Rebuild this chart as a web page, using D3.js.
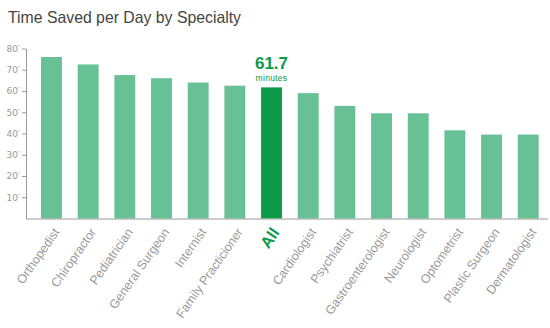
<!DOCTYPE html>
<html>
<head>
<meta charset="utf-8">
<script src="https://cdn.jsdelivr.net/npm/d3@7"></script>
<style>
  html, body { margin: 0; padding: 0; background: #fff; }
  svg { display: block; font-family: "Liberation Sans", Arial, sans-serif; }
</style>
</head>
<body>
<svg id="chart" width="550" height="328"></svg>
<script>
// Minutes saved per day, by specialty
const specialties = [
  "Orthopedist", "Chiropractor", "Pediatrician", "General Surgeon", "Internist",
  "Family Practicioner", "All", "Cardiologist", "Psychiatrist", "Gastroenterologist",
  "Neurologist", "Optometrist", "Plastic Surgeon", "Dermatologist"
];
const minutesSaved = [76, 72.5, 67.5, 66, 64, 62.5, 61.7, 59, 53, 49.5, 49.5, 41.5, 39.5, 39.5];
const yTicks = [10, 20, 30, 40, 50, 60, 70, 80];
const highlight = "All";

const data = specialties.map((name, i) => ({ name, value: minutesSaved[i] }));

const svg = d3.select("#chart");
const plotLeft = 26, plotRight = 548, plotTop = 48.5, plotBottom = 218.5;

const x = d3.scaleBand()
  .domain(specialties)
  .range([plotLeft, 553.7])
  .paddingInner(0.43)
  .paddingOuter(0.41);

const y = d3.scaleLinear().domain([0, 80]).range([plotBottom, plotTop]);

const barColor = "#67c194";
const hiColor = "#0a9a48";

// title
svg.append("text")
  .attr("x", 8).attr("y", 23)
  .attr("font-size", 16.5)
  .attr("textLength", 233)
  .attr("lengthAdjust", "spacingAndGlyphs")
  .attr("fill", "#444")
  .text("Time Saved per Day by Specialty");

// bars
svg.append("g").selectAll("rect")
  .data(data)
  .join("rect")
  .attr("x", d => x(d.name))
  .attr("width", x.bandwidth())
  .attr("y", d => y(d.value))
  .attr("height", d => y(0) - y(d.value))
  .attr("fill", d => d.name === highlight ? hiColor : barColor);

// y axis
const yAxis = svg.append("g")
  .attr("transform", `translate(${plotLeft},0)`)
  .call(d3.axisLeft(y).tickValues(yTicks).tickSize(4).tickSizeOuter(0)
    .tickFormat(d => d + "\u2032"));
yAxis.select(".domain").attr("stroke", "#999");
yAxis.selectAll(".tick line").attr("stroke", "#999");
yAxis.selectAll(".tick text")
  .attr("fill", "#999")
  .attr("font-size", 9)
  .attr("font-family", "'DejaVu Sans', sans-serif")
  .attr("x", -6);

// baseline
svg.append("line")
  .attr("x1", plotLeft).attr("x2", plotRight)
  .attr("y1", y(0) + 0.5).attr("y2", y(0) + 0.5)
  .attr("stroke", "#999");

// category labels
svg.append("g").selectAll("text")
  .data(data)
  .join("text")
  .attr("transform", d => {
    const cx = x(d.name) + x.bandwidth() / 2 + (d.name === highlight ? 4 : 5);
    return `translate(${cx},${y(0) + 11}) rotate(-55)`;
  })
  .attr("text-anchor", "end")
  .attr("dy", "0.35em")
  .attr("font-size", d => d.name === highlight ? 16 : 12.5)
  .attr("font-weight", d => d.name === highlight ? "bold" : "normal")
  .attr("fill", d => d.name === highlight ? hiColor : "#9a9a9a")
  .text(d => d.name);

// value callout over the highlighted bar
const hi = data.find(d => d.name === highlight);
const hx = x(hi.name) + x.bandwidth() / 2;
svg.append("text")
  .attr("x", hx).attr("y", y(hi.value) - 18.5)
  .attr("text-anchor", "middle")
  .attr("font-size", 17)
  .attr("font-weight", "bold")
  .attr("fill", hiColor)
  .text(hi.value.toFixed(1));
svg.append("text")
  .attr("x", hx).attr("y", y(hi.value) - 6)
  .attr("text-anchor", "middle")
  .attr("font-size", 8.5)
  .attr("letter-spacing", 0.3)
  .attr("fill", hiColor)
  .text("minutes");
</script>
</body>
</html>
